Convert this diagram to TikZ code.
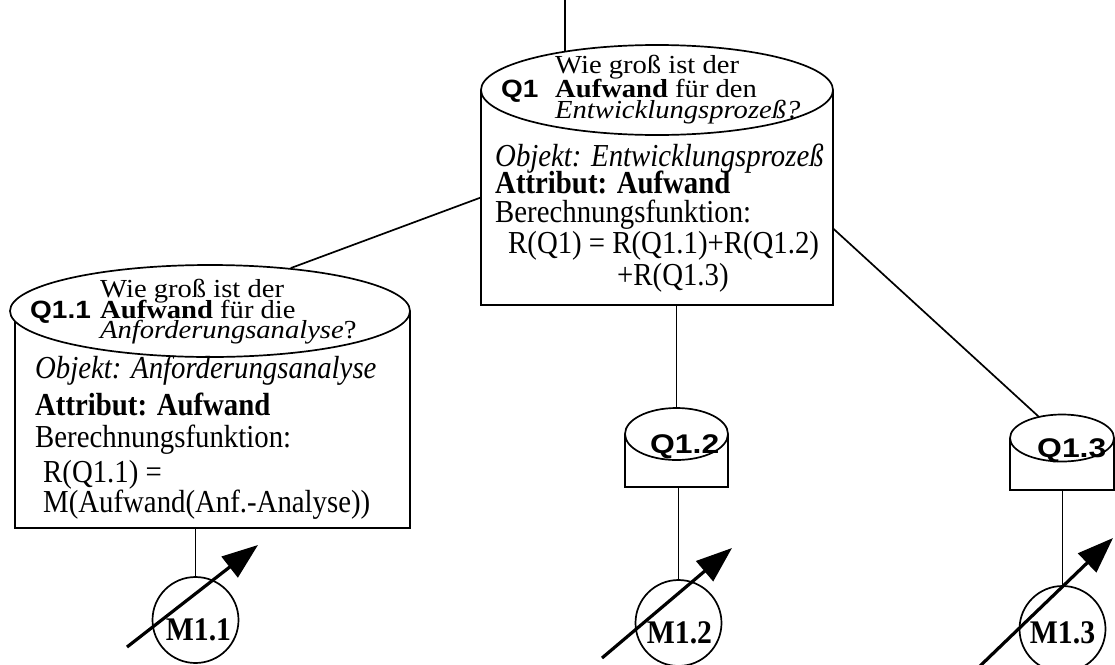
\documentclass[tikz,border=0pt]{standalone}
\usepackage{fontspec}
\setmainfont{Liberation Serif}[FakeStretch=0.9]
\newfontfamily\headfont{Liberation Serif}[FakeStretch=1.1]
\newfontfamily\labelsans{Liberation Sans}[FakeStretch=1.12]
\newfontfamily\tagsans{Liberation Sans}[FakeStretch=1.18]
\usetikzlibrary{shapes.geometric,arrows.meta,calc,backgrounds}

\tikzset{
  link/.style={line width=1.7pt},
  lid/.style={ellipse, draw, line width=1.7pt, fill=white, inner sep=0pt},
  bodybox/.style={rectangle, fill=white, inner sep=0pt},
  txt/.style={anchor=base west, inner sep=0pt, font=\fontsize{32}{32}\selectfont},
  head/.style={anchor=base west, inner sep=0pt, font=\headfont\fontsize{26}{26}\selectfont},
  qlabel/.style={anchor=base west, inner sep=0pt, font=\labelsans\bfseries\fontsize{25}{25}\selectfont},
  qsmall/.style={anchor=base west, inner sep=0pt, font=\tagsans\bfseries\fontsize{27}{27}\selectfont},
  meter/.style={circle, draw, line width=1.7pt, minimum size=86pt, inner sep=0pt, fill=white},
  mlabel/.style={anchor=base, inner sep=0pt, font=\bfseries\fontsize{33}{33}\selectfont},
  probe/.style={line width=3.2pt, -{Triangle[length=36pt,width=26pt]}}
}

\begin{document}
\begin{tikzpicture}[x=1pt, y=-1pt]
\useasboundingbox (0,0) rectangle (1115,664);

% ---------- Q1 cylinder ----------
\node[bodybox, minimum width=352pt, minimum height=215pt] (q1body) at (657,197.5) {};
\draw[link] (q1body.north west) -- (q1body.south west) -- (q1body.south east) -- (q1body.north east);
\node[lid, minimum width=352pt, minimum height=90pt] (q1ell) at (657,90) {};

% ---------- Q1.1 cylinder ----------
\node[bodybox, minimum width=395pt, minimum height=217pt] (q11body) at (212.5,419.5) {};
\draw[link] (q11body.north west) -- (q11body.south west) -- (q11body.south east) -- (q11body.north east);
\node[lid, minimum width=400pt, minimum height=92pt] (q11ell) at (210,311) {};

% ---------- Q1.2 cylinder ----------
\node[bodybox, minimum width=103pt, minimum height=53pt] (q12body) at (676.5,460.5) {};
\draw[link] (q12body.north west) -- (q12body.south west) -- (q12body.south east) -- (q12body.north east);
\node[lid, minimum width=103pt, minimum height=52pt] (q12ell) at (676.5,434) {};

% ---------- Q1.3 cylinder ----------
\node[bodybox, minimum width=104pt, minimum height=52pt] (q13body) at (1062,464) {};
\draw[link] (q13body.north west) -- (q13body.south west) -- (q13body.south east) -- (q13body.north east);
\node[lid, minimum width=104pt, minimum height=47pt] (q13ell) at (1062,438) {};

% ---------- metrics ----------
\node[meter] (m11) at (195.5,620) {};
\node[meter] (m12) at (678.5,623) {};
\node[meter] (m13) at (1062.5,629) {};

% ---------- connectors ----------
\coordinate (topend) at (565,0);
\begin{scope}[on background layer]
  \draw[link] (topend) -- (topend |- q1ell.center);
  \draw[link] (q1body.west) -- (q11ell.28);
  \draw[link] (q12ell.center) -- (q12ell.center |- q1body.south);
  \draw[link] (q1body.-10) -- (q13ell.center);
  \draw[link] (m11.center) -- (m11.center |- q11body.south);
  \draw[link] (m12.center) -- (m12.center |- q12body.south);
  \draw[link] (m13.center) -- (m13.center |- q13body.south);
\end{scope}

% ---------- Q1 texts ----------
\node[qlabel] (q1id) at (501,97) {Q1};
\node[head] (q1l1) at (555,73) {Wie groß ist der};
\node[head] (q1l2) at (555,97) {\textbf{Aufwand} für den};
\node[head] (q1l3) at (555,118) {\textit{Entwicklungsprozeß?}};
\node[txt] (q1l4) at (495,166) {\textit{Objekt: Entwicklungsprozeß}};
\node[txt] (q1l5) at (495,193) {\textbf{Attribut: Aufwand}};
\node[txt] (q1l6) at (495,222) {Berechnungsfunktion:};
\node[txt] (q1l7) at (508,253) {R(Q1) = R(Q1.1)+R(Q1.2)};
\node[txt] (q1l8) at (617,285) {+R(Q1.3)};

% ---------- Q1.1 texts ----------
\node[qlabel] (q11id) at (30,318) {Q1.1};
\node[head] (q11l1) at (100,297) {Wie groß ist der};
\node[head] (q11l2) at (100,318) {\textbf{Aufwand} für die};
\node[head] (q11l3) at (100,338) {\textit{Anforderungsanalyse}?};
\node[txt] (q11l4) at (35,378) {\textit{Objekt: Anforderungsanalyse}};
\node[txt] (q11l5) at (35,415) {\textbf{Attribut: Aufwand}};
\node[txt] (q11l6) at (35,447) {Berechnungsfunktion:};
\node[txt] (q11l7) at (43,482) {R(Q1.1) =};
\node[txt] (q11l8) at (43,512) {M(Aufwand(Anf.-Analyse))};

% ---------- Q1.2 / Q1.3 labels ----------
\node[qsmall] (q12id) at (650,453) {Q1.2};
\node[qsmall] (q13id) at (1037,457) {Q1.3};

% ---------- metric labels ----------
\node[mlabel] (m11id) at (198.5,640) {M1.1};
\node[mlabel] (m12id) at (679.5,643) {M1.2};
\node[mlabel] (m13id) at (1062.5,643) {M1.3};

% ---------- measurement arrows ----------
\coordinate (p11a) at (127,647);  \coordinate (p11b) at (258,545);
\coordinate (p12a) at (602,658);  \coordinate (p12b) at (732,548);
\coordinate (p13a) at (980,666);  \coordinate (p13b) at (1113,538);
\draw[probe] (p11a) -- (p11b);
\draw[probe] (p12a) -- (p12b);
\draw[probe] (p13a) -- (p13b);
\end{tikzpicture}
\end{document}
